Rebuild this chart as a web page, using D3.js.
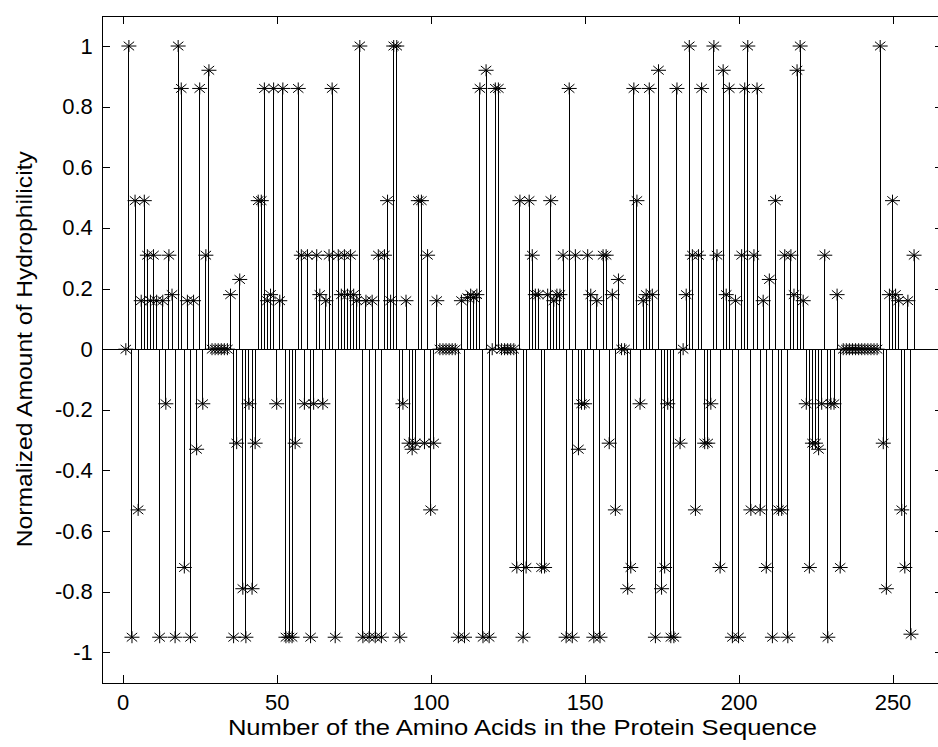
<!DOCTYPE html>
<html>
<head>
<meta charset="utf-8">
<script src="https://cdn.jsdelivr.net/npm/d3@7"></script>
<style>
	body { margin:0; background:#fff; }
	text { font-family: Arial, "Liberation Sans", sans-serif; fill:#000; }
</style>
</head>
<body>
<svg id="stemChart"></svg>
<script>
	// normalized hydrophilicity for each amino acid, in sequence order (1..257)
	var hydroValues = [
		0, 1, -0.95, 0.49, -0.53, 0.16, 0.49, 0.31, 0.16, 0.31,
		0.16, -0.95, 0.16, -0.18, 0.31, 0.18, -0.95, 1, 0.86, -0.72,
		0.16, -0.95, 0.16, -0.33, 0.86, -0.18, 0.31, 0.92, 0, 0,
		0, 0, 0, 0, 0.18, -0.95, -0.31, 0.23, -0.79, -0.95,
		-0.18, -0.79, -0.31, 0.49, 0.49, 0.86, 0.16, 0.18, 0.86, -0.18,
		0.16, 0.86, -0.95, -0.95, -0.95, -0.31, 0.86, 0.31, -0.18, 0.31,
		-0.95, -0.18, 0.31, 0.18, -0.18, 0.16, 0.31, 0.86, -0.95, 0.31,
		0.18, 0.31, 0.18, 0.31, 0.18, 0.16, 1, -0.95, 0.16, -0.95,
		0.16, -0.95, 0.31, -0.95, 0.31, 0.49, 0.16, 1, 1, -0.95,
		-0.18, 0.16, -0.31, -0.33, -0.31, 0.49, 0.49, -0.31, 0.31, -0.53,
		-0.31, 0.16, 0, 0, 0, 0, 0, 0, -0.95, 0.16,
		-0.95, 0.17, 0.18, 0.17, 0.18, 0.86, -0.95, 0.92, -0.95, 0,
		0.86, 0.86, 0, 0, 0, 0, 0, -0.72, 0.49, -0.95,
		-0.72, 0.49, 0.31, 0.18, 0.18, -0.72, -0.72, 0.18, 0.49, 0.16,
		0.18, 0.18, 0.31, -0.95, 0.86, -0.95, 0.31, -0.33, -0.18, -0.18,
		0.31, 0.18, -0.95, 0.16, -0.95, 0.31, 0.31, -0.31, 0.18, -0.53,
		0.23, 0, 0, -0.79, -0.72, 0.86, 0.49, -0.18, 0.16, 0.18,
		0.86, 0.18, -0.95, 0.92, -0.79, -0.72, -0.18, -0.95, -0.95, 0.86,
		-0.31, 0, 0.18, 1, 0.31, -0.53, 0.31, 0.86, -0.31, -0.31,
		-0.18, 1, 0.31, -0.72, 0.92, 0.18, 0.86, -0.95, 0.16, -0.95,
		0.31, 0.86, 1, -0.53, 0.31, 0.86, -0.53, 0.16, -0.72, 0.23,
		-0.95, 0.49, -0.53, -0.53, 0.31, -0.95, 0.31, 0.18, 0.92, 1,
		0.16, -0.18, -0.72, -0.31, -0.31, -0.33, -0.18, 0.31, -0.95, -0.18,
		-0.18, 0.18, -0.72, 0, 0, 0, 0, 0, 0, 0,
		0, 0, 0, 0, 0, 1, -0.31, -0.79, 0.18, 0.49,
		0.18, 0.16, -0.53, -0.72, 0.16, -0.94, 0.31
	];
	var xTickValues = [0, 50, 100, 150, 200, 250];
	var yTickValues = [-1, -0.8, -0.6, -0.4, -0.2, 0, 0.2, 0.4, 0.6, 0.8, 1];
	var xTitle = "Number of the Amino Acids in the Protein Sequence";
	var yTitle = "Normalized Amount of Hydrophilicity";

	var svgWidth = 938,
		svgHeight = 747,
		plotLeft = 101.8,
		plotRight = 943,
		plotTop = 15.7,
		plotBottom = 682.7,
		tickLen = 8;

	var svg = d3.select("#stemChart")
		.attr("width", svgWidth)
		.attr("height", svgHeight);

	var data = hydroValues.map(function(v, i){ return {pos: i + 1, value: v}; });

	var xScale = d3.scaleLinear()
		.domain([-6.8, 266.4])
		.range([plotLeft, plotRight]);
	var yScale = d3.scaleLinear()
		.domain([-1.1, 1.1])
		.range([plotBottom, plotTop]);

	// axes box, ticks pointing inward on all four sides
	var xAxis = d3.axisBottom(xScale).tickValues(xTickValues).tickSizeInner(-tickLen).tickSizeOuter(0).tickPadding(12);
	var yAxis = d3.axisLeft(yScale).tickValues(yTickValues).tickSizeInner(-tickLen).tickSizeOuter(0).tickPadding(9)
		.tickFormat(function(d){ return String(+d.toFixed(1)); });
	var xAxisTop = d3.axisTop(xScale).tickValues(xTickValues).tickSizeInner(-tickLen).tickSizeOuter(0).tickFormat("");
	var yAxisRight = d3.axisRight(yScale).tickValues(yTickValues).tickSizeInner(-tickLen).tickSizeOuter(0).tickFormat("");

	svg.append("g").attr("class", "x-axis").attr("transform", "translate(0," + plotBottom + ")").call(xAxis);
	svg.append("g").attr("class", "y-axis").attr("transform", "translate(" + plotLeft + ",0)").call(yAxis);
	svg.append("g").attr("transform", "translate(0," + plotTop + ")").call(xAxisTop);
	svg.append("g").attr("transform", "translate(" + plotRight + ",0)").call(yAxisRight);

	svg.selectAll(".domain, .tick line")
		.style("stroke", "#000")
		.style("stroke-width", "1px")
		.style("shape-rendering", "crispEdges");
	svg.selectAll(".tick text")
		.style("font-size", "22px");

	var plot = svg.append("g").attr("class", "stems");

	// baseline at zero
	plot.append("line")
		.attr("x1", plotLeft)
		.attr("x2", plotRight)
		.attr("y1", yScale(0))
		.attr("y2", yScale(0))
		.style("stroke", "#000")
		.style("shape-rendering", "crispEdges");

	plot.selectAll("line.stem")
		.data(data)
	  .enter().append("line")
		.attr("class", "stem")
		.attr("x1", function(d){ return xScale(d.pos); })
		.attr("x2", function(d){ return xScale(d.pos); })
		.attr("y1", yScale(0))
		.attr("y2", function(d){ return yScale(d.value); })
		.style("stroke", "#000")
		.style("stroke-width", "1px")
		.style("shape-rendering", "crispEdges");

	// asterisk markers (+ and x), a little wider than tall like the original
	var rx = 7.5, ry = 6, dx = 5.2, dy = 4.3;
	var starPath = "M" + -rx + ",0H" + rx + "M0," + -ry + "V" + ry +
		"M" + -dx + "," + -dy + "L" + dx + "," + dy + "M" + -dx + "," + dy + "L" + dx + "," + -dy;
	plot.selectAll("path.marker")
		.data(data)
	  .enter().append("path")
		.attr("class", "marker")
		.attr("d", starPath)
		.attr("transform", function(d){ return "translate(" + xScale(d.pos) + "," + yScale(d.value) + ")"; })
		.style("fill", "none")
		.style("stroke", "#000")
		.style("stroke-width", "1px");

	svg.append("text")
		.attr("x", (plotLeft + plotRight) / 2)
		.attr("y", 735)
		.attr("text-anchor", "middle")
		.attr("textLength", 589)
		.attr("lengthAdjust", "spacingAndGlyphs")
		.style("font-size", "21.5px")
		.text(xTitle);

	svg.append("text")
		.attr("transform", "translate(32," + (plotTop + plotBottom) / 2 + ") rotate(-90)")
		.attr("text-anchor", "middle")
		.attr("textLength", 396)
		.attr("lengthAdjust", "spacingAndGlyphs")
		.style("font-size", "22px")
		.text(yTitle);
</script>
</body>
</html>
